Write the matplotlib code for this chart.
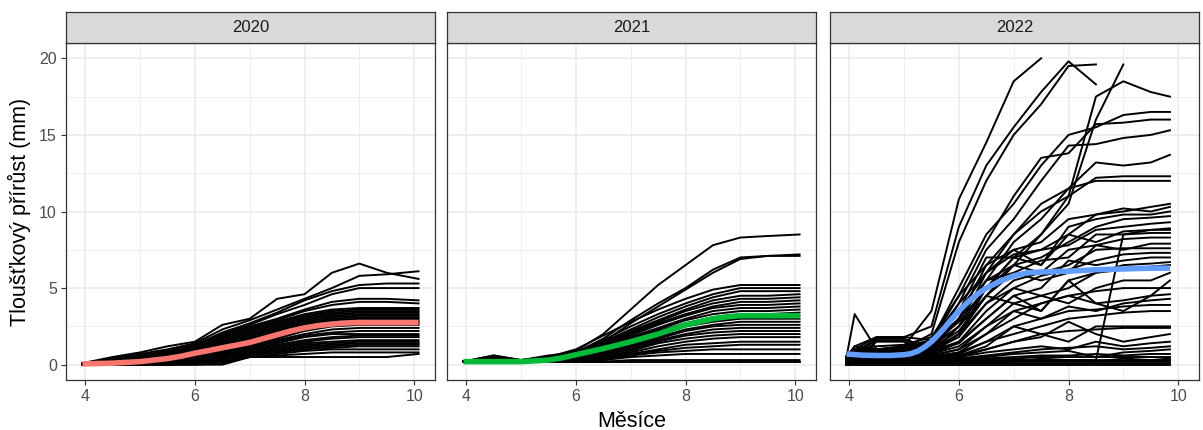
import numpy as np
import matplotlib.pyplot as plt

nan = np.nan
plt.rcParams['font.family'] = ['Liberation Sans', 'DejaVu Sans']

# --- data ----------------------------------------------------------------
years = ["2020", "2021", "2022"]

months_a = [3.95, 4.5, 5, 5.5, 6, 6.5, 7, 7.5, 8, 8.5, 9, 9.5, 10.08]
months_c = [3.95, 4.1, 4.5, 5, 5.5, 6, 6.5, 7, 7.5, 8, 8.5, 9, 9.5, 9.85]

growth_2020 = [
    [0.1, 0.5, 0.8, 1.2, 1.5, 2.6, 3.0, 4.3, 4.6, 6.0, 6.6, 6.0, 5.6],
    [0.1, 0.4, 0.7, 1.0, 1.4, 2.3, 2.9, 3.6, 4.3, 5.0, 5.8, 5.9, 6.1],
    [0.1, 0.3, 0.6, 0.9, 1.3, 2.1, 2.7, 3.4, 4.2, 4.8, 5.2, 5.3, 5.3],
    [0.0, 0.3, 0.5, 0.8, 1.2, 2.0, 2.6, 3.3, 3.9, 4.6, 5.0, 5.0, 5.0],
    [0.0, 0.2, 0.5, 0.8, 1.1, 1.9, 2.5, 3.0, 3.6, 4.1, 4.3, 4.3, 4.2],
    [0.0, 0.2, 0.4, 0.7, 1.0, 1.8, 2.4, 2.9, 3.5, 3.9, 4.1, 4.1, 4.0],
    [0.0, 0.2, 0.4, 0.7, 1.0, 1.7, 2.3, 2.8, 3.3, 3.6, 3.7, 3.7, 3.7],
    [0.0, 0.2, 0.4, 0.6, 0.9, 1.6, 2.2, 2.7, 3.2, 3.5, 3.6, 3.6, 3.6],
    [0.0, 0.1, 0.3, 0.6, 0.9, 1.5, 2.1, 2.6, 3.1, 3.4, 3.5, 3.5, 3.5],
    [0.0, 0.1, 0.3, 0.5, 0.8, 1.4, 2.0, 2.5, 3.0, 3.3, 3.4, 3.4, 3.4],
    [0.0, 0.1, 0.3, 0.5, 0.8, 1.3, 1.9, 2.4, 2.9, 3.2, 3.3, 3.3, 3.3],
    [0.0, 0.1, 0.2, 0.4, 0.7, 1.2, 1.8, 2.3, 2.8, 3.1, 3.2, 3.2, 3.2],
    [0.0, 0.1, 0.2, 0.4, 0.6, 1.1, 1.7, 2.2, 2.7, 3.0, 3.1, 3.1, 3.1],
    [0.0, 0.1, 0.2, 0.4, 0.6, 1.0, 1.6, 2.1, 2.6, 2.9, 3.0, 3.0, 3.0],
    [0.0, 0.1, 0.2, 0.3, 0.5, 0.9, 1.5, 2.0, 2.5, 2.8, 2.9, 2.9, 2.9],
    [0.0, 0.1, 0.2, 0.3, 0.5, 0.9, 1.4, 1.9, 2.4, 2.7, 2.8, 2.8, 2.8],
    [0.0, 0.0, 0.1, 0.3, 0.4, 0.8, 1.3, 1.8, 2.3, 2.6, 2.7, 2.7, 2.7],
    [0.0, 0.0, 0.1, 0.2, 0.4, 0.8, 1.2, 1.7, 2.2, 2.5, 2.6, 2.6, 2.6],
    [0.0, 0.0, 0.1, 0.2, 0.4, 0.7, 1.2, 1.6, 2.0, 2.3, 2.4, 2.4, 2.4],
    [0.0, 0.0, 0.1, 0.2, 0.3, 0.7, 1.1, 1.5, 1.9, 2.1, 2.2, 2.2, 2.2],
    [0.0, 0.0, 0.1, 0.2, 0.3, 0.6, 1.0, 1.4, 1.8, 2.0, 2.0, 2.0, 2.0],
    [0.0, 0.0, 0.1, 0.2, 0.3, 0.6, 1.0, 1.3, 1.6, 1.8, 1.9, 1.9, 1.9],
    [0.0, 0.0, 0.1, 0.1, 0.2, 0.5, 0.9, 1.2, 1.5, 1.7, 1.8, 1.8, 1.8],
    [0.0, 0.0, 0.1, 0.1, 0.2, 0.5, 0.8, 1.1, 1.4, 1.5, 1.6, 1.6, 1.6],
    [0.0, 0.0, 0.0, 0.1, 0.2, 0.4, 0.8, 1.0, 1.3, 1.4, 1.5, 1.5, 1.5],
    [0.0, 0.0, 0.0, 0.1, 0.1, 0.4, 0.7, 0.9, 1.2, 1.3, 1.4, 1.4, 1.4],
    [0.0, 0.0, 0.0, 0.1, 0.1, 0.3, 0.7, 0.9, 1.1, 1.2, 1.3, 1.3, 1.3],
    [0.0, 0.0, 0.0, 0.0, 0.1, 0.3, 0.6, 0.8, 1.0, 1.1, 1.2, 1.2, 1.2],
    [0.0, 0.0, 0.0, 0.0, 0.1, 0.2, 0.5, 0.7, 0.9, 1.0, 1.0, 1.0, 1.0],
    [0.0, 0.0, 0.0, 0.0, 0.0, 0.1, 0.5, 0.6, 0.7, 0.8, 0.8, 0.8, 0.8],
    [0.0, 0.0, 0.0, 0.0, 0.0, 0.0, 0.5, 0.5, 0.5, 0.5, 0.5, 0.5, 0.7],
]

growth_2021 = [
    [0.2, 0.4, 0.3, 0.5, 0.9, 2.0, 3.6, 5.2, 6.5, 7.8, 8.3, 8.4, 8.5],
    [0.2, 0.6, 0.3, 0.4, 0.8, 1.7, 2.9, 4.0, 5.0, 6.2, 7.0, 7.1, 7.2],
    [0.2, 0.3, 0.3, 0.4, 0.7, 1.5, 2.7, 3.8, 4.9, 6.0, 6.9, 7.1, 7.1],
    [0.2, 0.6, 0.3, 0.5, 1.0, 1.9, 2.8, 3.6, 4.3, 4.9, 5.2, 5.2, 5.2],
    [0.2, 0.3, 0.3, 0.6, 0.8, 1.6, 2.5, 3.3, 4.0, 4.6, 5.0, 5.0, 5.0],
    [0.2, 0.3, 0.3, 0.4, 0.7, 1.5, 2.3, 3.1, 3.8, 4.4, 4.8, 4.8, 4.8],
    [0.2, 0.2, 0.3, 0.4, 0.7, 1.4, 2.2, 2.9, 3.6, 4.2, 4.5, 4.5, 4.6],
    [0.2, 0.5, 0.2, 0.3, 0.6, 1.3, 2.1, 2.8, 3.5, 4.0, 4.3, 4.3, 4.4],
    [0.2, 0.2, 0.2, 0.3, 0.6, 1.2, 2.0, 2.7, 3.3, 3.8, 4.1, 4.1, 4.2],
    [0.2, 0.2, 0.2, 0.3, 0.5, 1.1, 1.9, 2.6, 3.2, 3.7, 3.9, 3.9, 4.0],
    [0.2, 0.2, 0.2, 0.3, 0.5, 1.0, 1.8, 2.4, 3.0, 3.5, 3.7, 3.7, 3.8],
    [0.2, 0.2, 0.2, 0.3, 0.5, 0.9, 1.7, 2.3, 2.9, 3.3, 3.5, 3.5, 3.6],
    [0.2, 0.2, 0.2, 0.3, 0.4, 0.9, 1.6, 2.2, 2.7, 3.1, 3.3, 3.3, 3.4],
    [0.2, 0.2, 0.2, 0.3, 0.4, 0.8, 1.5, 2.1, 2.6, 2.9, 3.1, 3.1, 3.2],
    [0.2, 0.2, 0.2, 0.2, 0.4, 0.8, 1.4, 2.0, 2.5, 2.8, 3.0, 3.0, 3.0],
    [0.2, 0.2, 0.2, 0.2, 0.4, 0.7, 1.3, 1.8, 2.3, 2.6, 2.8, 2.8, 2.8],
    [0.2, 0.2, 0.2, 0.2, 0.3, 0.7, 1.2, 1.7, 2.2, 2.5, 2.6, 2.6, 2.6],
    [0.2, 0.2, 0.2, 0.2, 0.3, 0.6, 1.1, 1.6, 2.0, 2.3, 2.4, 2.4, 2.4],
    [0.2, 0.2, 0.2, 0.2, 0.3, 0.6, 1.0, 1.5, 1.9, 2.1, 2.2, 2.2, 2.2],
    [0.2, 0.2, 0.2, 0.2, 0.3, 0.5, 0.9, 1.4, 1.7, 1.9, 2.0, 2.0, 2.0],
    [0.2, 0.2, 0.2, 0.2, 0.3, 0.5, 0.8, 1.2, 1.5, 1.7, 1.8, 1.8, 1.8],
    [0.2, 0.2, 0.2, 0.2, 0.2, 0.4, 0.7, 1.0, 1.3, 1.4, 1.5, 1.5, 1.5],
    [0.2, 0.2, 0.2, 0.2, 0.2, 0.4, 0.7, 0.9, 1.1, 1.2, 1.3, 1.3, 1.3],
    [0.2, 0.2, 0.2, 0.2, 0.2, 0.3, 0.6, 0.8, 0.9, 1.0, 1.0, 1.0, 1.0],
    [0.2, 0.2, 0.2, 0.2, 0.2, 0.3, 0.5, 0.6, 0.7, 0.7, 0.7, 0.7, 0.7],
    [0.2, 0.2, 0.2, 0.2, 0.2, 0.2, 0.3, 0.3, 0.3, 0.3, 0.3, 0.3, 0.3],
    [0.2, 0.2, 0.2, 0.2, 0.2, 0.2, 0.2, 0.2, 0.2, 0.2, 0.2, 0.2, 0.2],
]

growth_2022 = [
    [0.5, 3.3, 1.0, 1.2, 3.5, 10.8, 14.5, 18.5, 20.0, nan, nan, nan, nan, nan],
    [0.5, 1.2, 1.8, 1.8, 2.5, 9.0, 13.0, 15.5, 17.8, 19.8, 18.3, nan, nan, nan],
    [0.5, 1.2, 1.0, 1.1, 2.0, 8.0, 12.0, 15.0, 17.0, 19.5, 19.6, nan, nan, nan],
    [0.4, 0.8, 0.6, 0.6, 0.8, 2.5, 5.0, 7.0, 8.5, 10.5, 16.0, 19.6, nan, nan],
    [0.4, 0.8, 0.6, 0.6, 0.8, 2.0, 4.5, 6.5, 8.5, 11.0, 17.5, 18.5, 17.8, 17.5],
    [0.5, 1.0, 1.8, 1.8, 1.6, 5.0, 8.5, 10.5, 13.0, 15.0, 15.5, 16.3, 16.5, 16.5],
    [0.5, 1.0, 0.9, 1.0, 1.5, 4.5, 8.0, 11.0, 13.5, 13.8, 15.7, 15.8, 16.0, 16.0],
    [0.5, 0.9, 0.8, 0.9, 1.1, 4.0, 7.5, 9.5, 12.0, 14.3, 14.4, 14.8, 15.0, 15.3],
    [0.4, 0.9, 0.8, 0.9, 1.0, 3.0, 6.5, 8.5, 10.5, 11.5, 13.2, 13.0, 13.2, 13.7],
    [0.4, 0.8, 1.7, 1.7, 1.0, 3.5, 6.0, 8.5, 10.0, 11.0, 12.2, 12.3, 12.3, 12.3],
    [0.4, 0.8, 0.7, 0.8, 0.9, 3.0, 5.5, 8.0, 9.5, 11.5, 12.0, 12.0, 12.0, 12.0],
    [0.6, 1.0, 1.2, 1.3, 1.8, 4.5, 6.5, 7.5, 8.0, 9.5, 9.8, 10.0, 10.3, 10.5],
    [0.5, 1.0, 1.0, 1.2, 1.6, 4.0, 6.0, 7.2, 7.5, 8.5, 9.8, 10.2, 10.0, 10.3],
    [0.5, 0.9, 1.0, 1.1, 1.5, 3.5, 7.0, 7.0, 6.5, 9.0, 9.5, 9.8, 9.8, 10.0],
    [0.5, 0.9, 0.9, 1.0, 1.4, 3.0, 5.5, 6.5, 7.0, 8.0, 9.0, 9.5, 9.6, 9.7],
    [0.4, 0.8, 0.9, 1.0, 1.3, 2.8, 5.0, 7.0, 7.5, 7.8, 8.8, 9.0, 9.2, 9.3],
    [0.4, 0.8, 0.8, 0.9, 1.2, 2.5, 6.0, 7.5, 6.5, 8.5, 8.0, 8.7, 8.8, 8.9],
    [0.4, 0.7, 1.6, 1.6, 1.1, 2.2, 4.5, 6.0, 6.8, 7.0, 8.5, 8.5, 8.6, 8.6],
    [0.4, 0.7, 0.7, 0.8, 1.0, 2.0, 5.0, 6.5, 6.0, 7.5, 7.8, 8.2, 8.3, 8.3],
    [0.3, 0.7, 0.7, 0.8, 1.0, 3.0, 5.5, 6.0, 5.5, 6.0, 7.8, 7.5, 7.9, 7.9],
    [0.3, 0.6, 0.7, 0.8, 0.9, 1.8, 4.0, 5.5, 6.0, 6.5, 7.5, 7.6, 7.6, 7.6],
    [0.3, 0.6, 0.6, 0.7, 0.9, 1.5, 3.5, 5.0, 5.8, 6.2, 6.8, 7.2, 7.3, 7.3],
    [0.3, 0.6, 0.6, 0.7, 0.8, 1.4, 3.0, 4.5, 5.0, 6.8, 6.5, 6.8, 7.0, 7.0],
    [0.3, 0.5, 0.6, 0.6, 0.8, 2.5, 4.5, 4.0, 3.5, 5.5, 6.0, 6.5, 6.6, 6.7],
    [0.3, 0.5, 0.5, 0.6, 0.7, 1.2, 2.5, 4.0, 4.5, 5.0, 6.0, 6.2, 6.4, 6.5],
    [0.3, 0.5, 0.5, 0.6, 0.7, 2.0, 4.0, 5.0, 4.5, 4.0, 5.0, 5.5, 5.5, 6.0],
    [0.2, 0.5, 0.5, 0.5, 0.6, 1.5, 3.0, 4.5, 3.5, 5.5, 4.0, 3.5, 4.5, 5.5],
    [0.2, 0.4, 1.5, 1.5, 0.6, 1.0, 2.5, 3.5, 4.0, 4.5, 4.8, 5.0, 5.0, 5.0],
    [0.2, 0.4, 0.4, 0.5, 0.6, 1.0, 2.0, 3.0, 4.0, 4.5, 4.0, 4.2, 4.5, 4.6],
    [0.2, 0.4, 0.4, 0.4, 0.5, 0.8, 2.0, 3.5, 3.0, 3.8, 3.5, 4.0, 4.2, 4.3],
    [0.2, 0.3, 0.3, 0.4, 0.5, 0.8, 1.5, 2.5, 3.0, 3.5, 3.6, 3.8, 3.9, 3.9],
    [0.2, 0.3, 0.3, 0.4, 0.5, 0.7, 1.5, 2.0, 2.5, 3.0, 3.2, 3.4, 3.5, 3.5],
    [0.2, 0.3, 0.3, 0.3, 0.4, 0.6, 1.2, 2.5, 2.0, 1.5, 2.5, 2.5, 2.5, 2.5],
    [0.2, 0.3, 0.3, 0.3, 0.4, 0.6, 1.0, 1.5, 2.0, 2.2, 2.3, 2.4, 2.4, 2.4],
    [0.2, 0.3, 0.3, 0.3, 0.4, 0.5, 1.0, 1.5, 1.8, 2.8, 2.0, 1.5, 1.8, 2.0],
    [0.1, 0.2, 0.2, 0.3, 0.3, 0.5, 0.8, 1.0, 1.2, 1.0, 1.5, 1.2, 1.4, 1.5],
    [0.1, 0.2, 0.2, 0.2, 0.3, 0.4, 0.6, 0.8, 1.0, 1.1, 1.2, 1.0, 1.1, 1.2],
    [0.1, 0.2, 0.2, 0.2, 0.3, 0.4, 0.5, 0.7, 0.8, 0.9, 0.5, 0.8, 0.9, 1.0],
    [0.1, 0.2, 0.2, 0.2, 0.2, 0.3, 0.4, 0.5, 0.6, 0.6, 0.7, 0.6, 0.7, 0.7],
    [0.1, 0.1, 0.2, 0.2, 0.2, 0.3, 0.4, 0.4, 0.5, 0.5, 0.5, 0.5, 0.5, 0.5],
    [0.1, 0.1, 0.1, 0.1, 0.2, 0.2, 0.3, 0.3, 0.3, 0.3, 0.3, 0.3, 0.3, 0.3],
    [0.1, 0.2, 0.2, 0.2, 0.2, 0.2, 0.2, 0.3, 0.3, 0.3, 0.3, 8.5, 8.8, 8.8],
    [0.2, 0.3, 0.3, 0.2, 0.2, 0.2, 0.3, 0.2, 0.4, 0.3, 0.2, 0.4, 0.3, 0.4],
    [0.1, 0.1, 0.1, 0.1, 0.1, 0.2, 0.1, 0.2, 0.2, 0.2, 0.2, 0.2, 0.2, 0.2],
    [0.0, 0.1, 0.1, 0.1, 0.1, 0.1, 0.1, 0.1, 0.1, 0.1, 0.1, 0.1, 0.1, 0.1],
    [0.0, 0.0, 0.0, 0.0, 0.0, 0.0, 0.0, 0.0, 0.0, 0.0, 0.0, 0.0, 0.0, 0.0],
]

fit_months_a = [3.95, 4.5, 5, 5.25, 5.5, 5.75, 6, 6.25, 6.5, 6.75, 7, 7.25, 7.5,
                7.75, 8, 8.25, 8.5, 8.75, 9, 9.5, 10.08]
fit_2020 = [0.05, 0.1, 0.2, 0.3, 0.4, 0.55, 0.75, 0.92, 1.1, 1.27, 1.45, 1.7, 1.95,
            2.2, 2.4, 2.55, 2.65, 2.72, 2.75, 2.75, 2.75]
fit_2021 = [0.2, 0.2, 0.2, 0.25, 0.3, 0.45, 0.65, 0.85, 1.05, 1.27, 1.5, 1.75, 2.0,
            2.3, 2.6, 2.8, 3.0, 3.12, 3.2, 3.2, 3.2]
fit_months_c = [3.95, 4.25, 4.5, 4.75, 5, 5.125, 5.25, 5.375, 5.5, 5.625, 5.75,
                5.875, 6, 6.125, 6.25, 6.375, 6.5, 6.75, 7, 7.25, 7.5, 7.75,
                8, 8.5, 9, 9.5, 9.85]
fit_2022 = [0.7, 0.62, 0.6, 0.6, 0.65, 0.72, 0.88, 1.15, 1.5, 1.95, 2.45, 3.0,
            3.5, 3.95, 4.35, 4.7, 5.0, 5.45, 5.8, 6.0, 6.05, 6.08,
            6.1, 6.2, 6.25, 6.3, 6.3]

fit_colors = ["#F8766D", "#00BA38", "#619CFF"]

panels = [
    (months_a, growth_2020, fit_months_a, fit_2020),
    (months_a, growth_2021, fit_months_a, fit_2021),
    (months_c, growth_2022, fit_months_c, fit_2022),
]

# --- layout (pixel based, ggplot theme_bw look) ---------------------------
W, H = 1203, 430
fig = plt.figure(figsize=(W / 100, H / 100), dpi=100)
fig.patch.set_facecolor("white")

lefts = [66, 447, 830]
pw = 369
ptop, pbot, stop = 43, 380, 12

for i, (mx, lines, fx, fy) in enumerate(panels):
    ax = fig.add_axes([lefts[i] / W, (H - pbot) / H, pw / W, (pbot - ptop) / H])
    for yv in lines:
        ax.plot(mx, yv, color="black", lw=1.4, solid_joinstyle="round", zorder=3)
    ax.plot(fx, fy, color=fit_colors[i], lw=4, solid_capstyle="butt",
            solid_joinstyle="round", zorder=4)

    ax.set_xlim(3.65, 10.38)
    ax.set_ylim(-1, 21)
    ax.set_xticks([4, 6, 8, 10])
    ax.set_yticks([0, 5, 10, 15, 20])
    ax.set_xticks([5, 7, 9], minor=True)
    ax.set_yticks([2.5, 7.5, 12.5, 17.5], minor=True)
    ax.grid(which="major", color="#EBEBEB", lw=1.2, zorder=0)
    ax.grid(which="minor", color="#EBEBEB", lw=0.6, zorder=0)
    ax.set_axisbelow(True)
    ax.tick_params(which="minor", length=0)
    ax.tick_params(which="major", length=3.5, width=0.8, color="#333333",
                   labelsize=11.5, labelcolor="#4D4D4D", pad=3)
    if i > 0:
        ax.tick_params(axis="y", labelleft=False, length=0)
    for s in ax.spines.values():
        s.set_color("#333333")
        s.set_linewidth(0.9)

    sx = fig.add_axes([lefts[i] / W, (H - ptop) / H, pw / W, (ptop - stop) / H])
    sx.set_facecolor("#D9D9D9")
    sx.set_xticks([])
    sx.set_yticks([])
    for s in sx.spines.values():
        s.set_color("#333333")
        s.set_linewidth(0.9)
    sx.text(0.5, 0.5, years[i], ha="center", va="center", fontsize=12,
            color="#1A1A1A", transform=sx.transAxes)

fig.text(19 / W, 1 - 212 / H, "Tloušťkový přírůst (mm)", rotation=90,
         ha="center", va="center", fontsize=15.5, color="black")
fig.text(632 / W, 1 - 427 / H, "Měsíce", ha="center", va="baseline",
         fontsize=15.5, color="black")

plt.savefig("out.png", dpi=100)
